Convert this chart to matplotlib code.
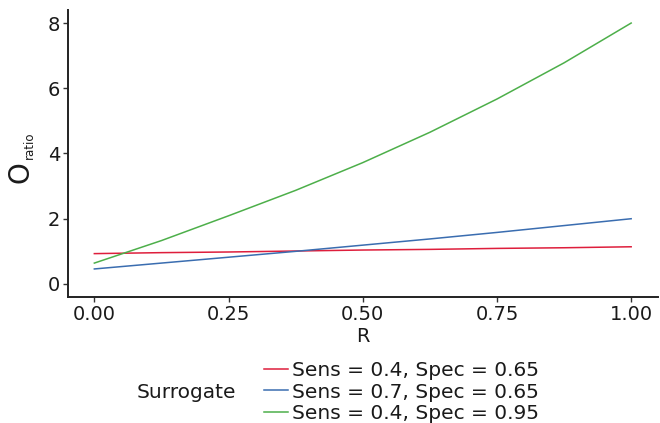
import numpy as np
import matplotlib.pyplot as plt
from matplotlib.lines import Line2D

# Odds ratio vs R for three surrogate classifiers
R = [0.0, 0.125, 0.25, 0.375, 0.5, 0.625, 0.75, 0.875, 1.0]
o_sens04_spec065 = [0.93, 0.96, 0.98, 1.01, 1.04, 1.06, 1.09, 1.11, 1.14]
o_sens07_spec065 = [0.46, 0.64, 0.82, 1.00, 1.19, 1.38, 1.58, 1.79, 2.00]
o_sens04_spec095 = [0.64, 1.33, 2.09, 2.87, 3.72, 4.65, 5.67, 6.78, 8.00]

labels = ["Sens = 0.4, Spec = 0.65",
          "Sens = 0.7, Spec = 0.65",
          "Sens = 0.4, Spec = 0.95"]
colors = ["#DE1E3C", "#3A6DB0", "#4DAF4A"]

plt.rcParams['font.family'] = ['DejaVu Sans']

W, H = 660, 423
fig = plt.figure(figsize=(W / 100, H / 100), dpi=100)
# axes box in pixels: left, right, top, bottom
x0, x1, y0, y1 = 67.5, 658, 10, 297
ax = fig.add_axes([x0 / W, 1 - y1 / H, (x1 - x0) / W, (y1 - y0) / H])

for ys, c in zip([o_sens04_spec065, o_sens07_spec065, o_sens04_spec095], colors):
    ax.plot(R, ys, color=c, lw=1.1)

ax.set_xlim(-0.05, 1.05)
ax.set_ylim(-0.4, 8.4)
ax.set_xticks([0, 0.25, 0.5, 0.75, 1.0])
ax.set_xticklabels(["0.00", "0.25", "0.50", "0.75", "1.00"])
ax.set_yticks([0, 2, 4, 6, 8])

for s in ["top", "right"]:
    ax.spines[s].set_visible(False)
for s in ["left", "bottom"]:
    ax.spines[s].set_linewidth(1.4)
    ax.spines[s].set_color("#222222")
ax.tick_params(length=3.4, width=1.0, color="#333333", labelsize=14,
               labelcolor="#1a1a1a", pad=2.0)

# axis titles
fig.text(363 / W, 1 - 336 / H, "R", fontsize=14, ha="center", va="center",
         color="#1a1a1a")
fig.text(20 / W, 1 - 172 / H, "O", fontsize=20, rotation=90,
         ha="center", va="center", color="#1a1a1a")
fig.text(29 / W, 1 - 145 / H, "ratio", fontsize=8.5, rotation=90,
         ha="center", va="center", color="#1a1a1a")

# legend below the panel
handles = [Line2D([], [], color=c, lw=1.1) for c in colors]
fig.legend(handles, labels, loc="center left",
           bbox_to_anchor=(264 / W, 1 - 392 / H), frameon=False,
           fontsize=14.5, handlelength=1.2, handletextpad=0.2,
           labelspacing=0.12, borderpad=0, borderaxespad=0,
           labelcolor="#1a1a1a")
fig.text(186 / W, 1 - 392 / H, "Surrogate", fontsize=14.5, ha="center",
         va="center", color="#1a1a1a")

fig.savefig("out.png", dpi=100)
